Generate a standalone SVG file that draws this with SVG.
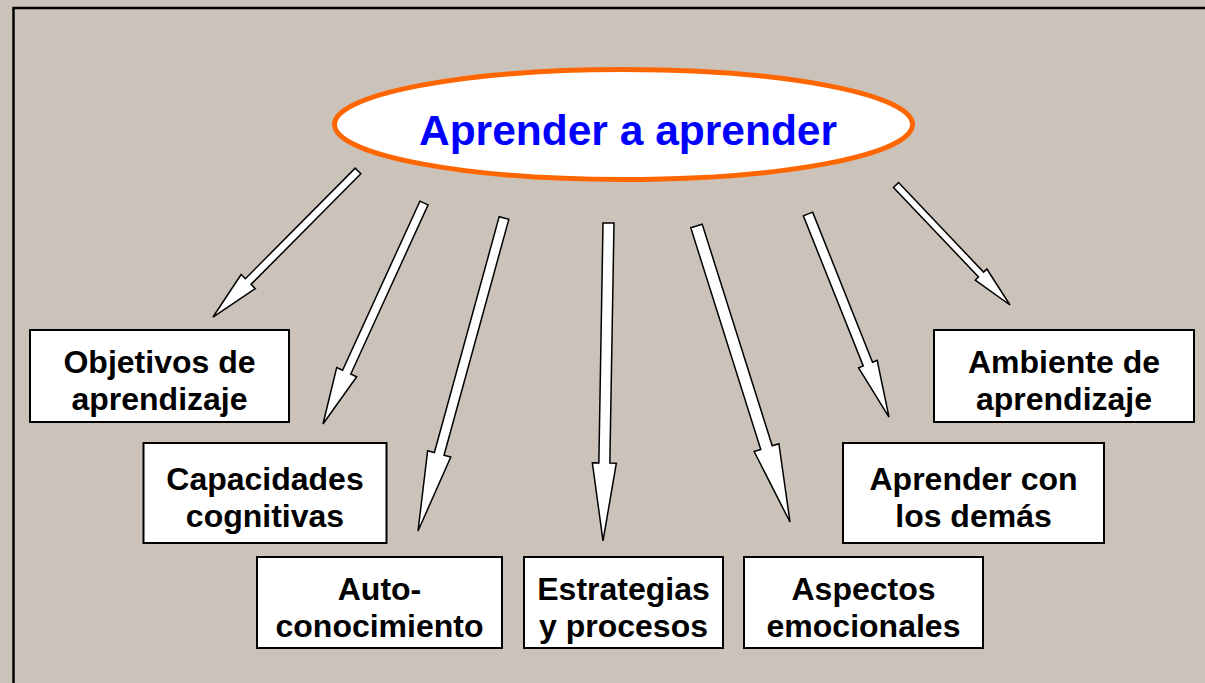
<svg xmlns="http://www.w3.org/2000/svg" width="1205" height="683" viewBox="0 0 1205 683">
  <style>
    .box { fill: #FFFFFF; stroke: #000000; stroke-width: 2; }
    .lbl { font-family: "Liberation Sans", Arial, sans-serif; font-weight: bold; font-size: 32px; fill: #000000; text-anchor: middle; }
    .title { font-family: "Liberation Sans", Arial, sans-serif; font-weight: bold; font-size: 42.5px; fill: #0000FF; text-anchor: middle; }
    .arrow { fill: #FFFFFF; stroke: #000000; stroke-width: 1.5; stroke-linejoin: miter; }
  </style>
  <rect x="0" y="0" width="1205" height="683" fill="#CBC3BA"/>
  <rect x="13.5" y="8" width="1300" height="800" fill="none" stroke="#000000" stroke-width="2.5"/>

  <g id="connectors">
    <polygon class="arrow" transform="translate(358,171) rotate(134.8)" points="0,-4 155.8,-4 155.8,-10 205.8,0 155.8,10 155.8,4 0,4"/>
    <polygon class="arrow" transform="translate(424,203) rotate(114.56)" points="0,-4.5 186,-4.5 186,-11 243,0 186,11 186,4.5 0,4.5"/>
    <polygon class="arrow" transform="translate(504,218) rotate(105.36)" points="0,-5 244.6,-5 244.6,-12 324.6,0 244.6,12 244.6,5 0,5"/>
    <polygon class="arrow" transform="translate(608.5,223) rotate(90.99)" points="0,-5.5 240,-5.5 240,-12 318,0 240,12 240,5.5 0,5.5"/>
    <polygon class="arrow" transform="translate(696.5,226) rotate(72.47)" points="0,-6 232.4,-6 232.4,-13 310.4,0 232.4,13 232.4,6 0,6"/>
    <polygon class="arrow" transform="translate(808,214) rotate(68.25)" points="0,-5 161.6,-5 161.6,-10 218.6,0 161.6,10 161.6,5 0,5"/>
    <polygon class="arrow" transform="translate(896,185) rotate(46.47)" points="0,-3.5 123.5,-3.5 123.5,-8 165.5,0 123.5,8 123.5,3.5 0,3.5"/>
  </g>

  <g id="center">
    <ellipse cx="623.5" cy="124.5" rx="289" ry="55" fill="#FFFFFF" stroke="#FF6600" stroke-width="5"/>
    <text class="title" x="628" y="145">Aprender a aprender</text>
  </g>

  <g id="objetivos">
    <rect class="box" x="30" y="330" width="259" height="92"/>
    <text class="lbl" x="159.5" y="373">Objetivos de</text>
    <text class="lbl" x="159.5" y="410">aprendizaje</text>
  </g>
  <g id="capacidades">
    <rect class="box" x="143.5" y="443" width="243" height="100"/>
    <text class="lbl" x="265" y="490">Capacidades</text>
    <text class="lbl" x="265" y="527">cognitivas</text>
  </g>
  <g id="auto">
    <rect class="box" x="257" y="557" width="245" height="91"/>
    <text class="lbl" x="379.5" y="599.5">Auto-</text>
    <text class="lbl" x="379.5" y="636.5">conocimiento</text>
  </g>
  <g id="estrategias">
    <rect class="box" x="524" y="557" width="199" height="91"/>
    <text class="lbl" x="623.5" y="599.5">Estrategias</text>
    <text class="lbl" x="623.5" y="636.5">y procesos</text>
  </g>
  <g id="aspectos">
    <rect class="box" x="744" y="557" width="239" height="91"/>
    <text class="lbl" x="863.5" y="599.5">Aspectos</text>
    <text class="lbl" x="863.5" y="636.5">emocionales</text>
  </g>
  <g id="aprender-con">
    <rect class="box" x="843" y="443" width="261" height="100"/>
    <text class="lbl" x="973.5" y="490">Aprender con</text>
    <text class="lbl" x="973.5" y="527">los demás</text>
  </g>
  <g id="ambiente">
    <rect class="box" x="934" y="330" width="260" height="92"/>
    <text class="lbl" x="1064" y="373">Ambiente de</text>
    <text class="lbl" x="1064" y="410">aprendizaje</text>
  </g>
</svg>
